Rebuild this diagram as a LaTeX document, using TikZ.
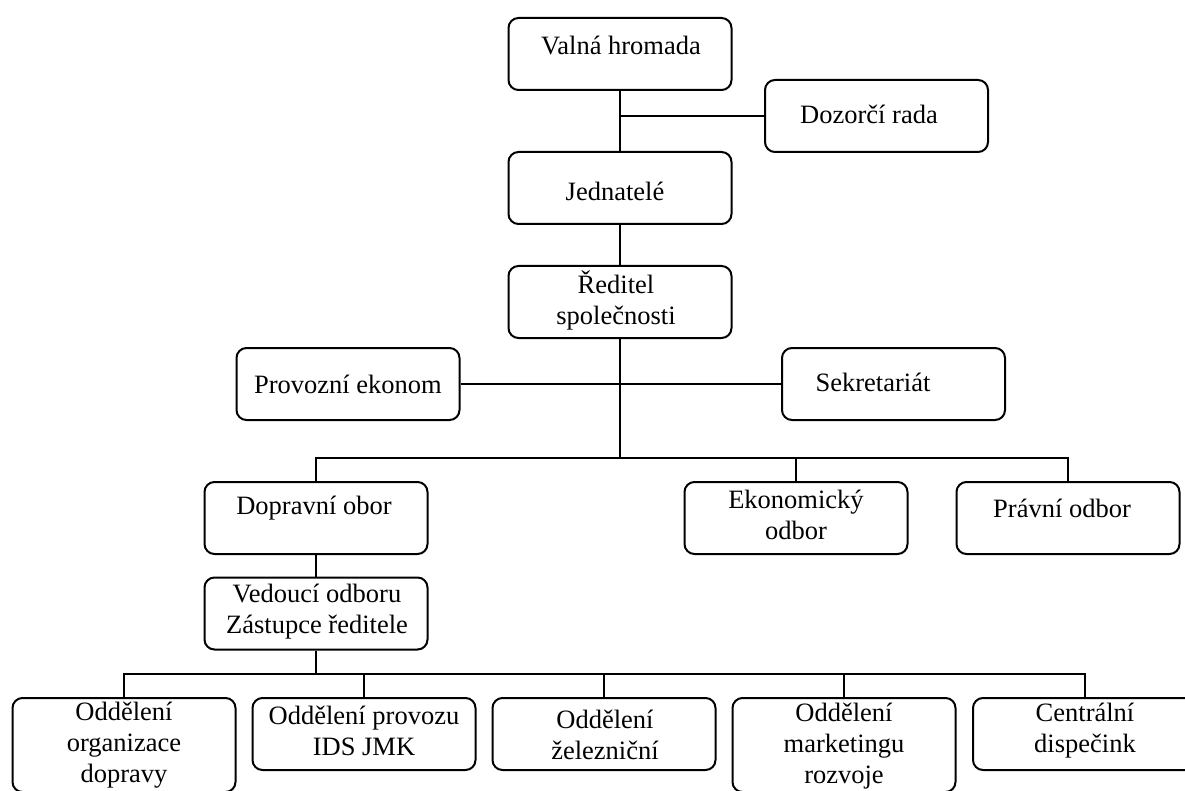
\documentclass[tikz,border=0pt]{standalone}
\usepackage{fontspec}
\setmainfont{Liberation Serif}
\newcommand\orgfs{\fontsize{26.5}{31}\selectfont}
\tikzset{
  box/.style={draw, line width=2pt, rounded corners=10pt, minimum width=223pt, minimum height=72pt, inner sep=0pt},
  tallbox/.style={box, minimum height=94pt},
  txt/.style={font=\orgfs, align=center, inner sep=0pt},
  conn/.style={line width=2pt}
}
\begin{document}
\begin{tikzpicture}[x=1pt,y=-1pt]
\useasboundingbox (0,0) rectangle (1185,791);
\clip (0,0) rectangle (1185,791);
% boxes
\node[box] (valna) at (620,54) {};
\node[box] (dozor) at (876.5,116) {};
\node[box] (jedn) at (620,188) {};
\node[box] (redit) at (620,302) {};
\node[box] (provoz) at (348,384) {};
\node[box] (sekret) at (893.5,384) {};
\node[box] (doprav) at (316,518) {};
\node[box] (ekon) at (796,518) {};
\node[box] (pravni) at (1068,518) {};
\node[box] (vedouci) at (316,613.5) {};
\node[tallbox] (b1) at (124,745) {};
\node[box] (b2) at (364,734) {};
\node[box] (b3) at (604,734) {};
\node[tallbox] (b4) at (844,745) {};
\node[box, minimum width=224pt] (b5) at (1085,734) {};
% texts
\node[txt] (valnat) at (621,45) {Valná hromada};
\node[txt] (dozort) at (869,114) {Dozorčí rada};
\node[txt] (jednt) at (615,191) {Jednatelé};
\node[txt] (reditt) at (616,300) {Ředitel\\společnosti};
\node[txt] (provozt) at (348,384) {Provozní ekonom};
\node[txt] (sekrett) at (873,382) {Sekretariát};
\node[txt] (dopravt) at (314,508) {Dopravní obor};
\node[txt] (ekont) at (796,515) {Ekonomický\\odbor};
\node[txt] (pravnit) at (1062,508) {Právní odbor};
\node[txt] (vedoucit) at (317,611.5) {Vedoucí odboru\\Zástupce ředitele};
\node[txt] (b1t) at (124,745) {Oddělení\\organizace\\dopravy};
\node[txt] (b2t) at (364,731) {Oddělení provozu\\IDS JMK};
\node[txt] (b3t) at (605,734.5) {Oddělení\\železniční};
\node[txt] (b4t) at (844,746) {Oddělení\\marketingu\\rozvoje};
\node[txt] (b5t) at (1085,730.5) {Centrální\\dispečink};
% connectors
\coordinate (j1) at (620,116);
\coordinate (bus) at (620,458);
\coordinate (bus2) at (316,674);
\draw[conn] (valna.south) -- (jedn.north);
\draw[conn] (j1) -- (dozor.west);
\draw[conn] (jedn.south) -- (redit.north);
\draw[conn] (redit.south) -- (bus);
\draw[conn] (provoz.east) -- (sekret.west);
\draw[conn] (doprav.north) |- (bus) -| (pravni.north);
\draw[conn] (ekon.north) -- (ekon.north |- bus);
\draw[conn] (doprav.south) -- (vedouci.north);
\draw[conn] (vedouci.south) -- (bus2);
\draw[conn] (b1.north) |- (bus2) -| (b5.north);
\draw[conn] (b2.north) -- (b2.north |- bus2);
\draw[conn] (b3.north) -- (b3.north |- bus2);
\draw[conn] (b4.north) -- (b4.north |- bus2);
\end{tikzpicture}
\end{document}
